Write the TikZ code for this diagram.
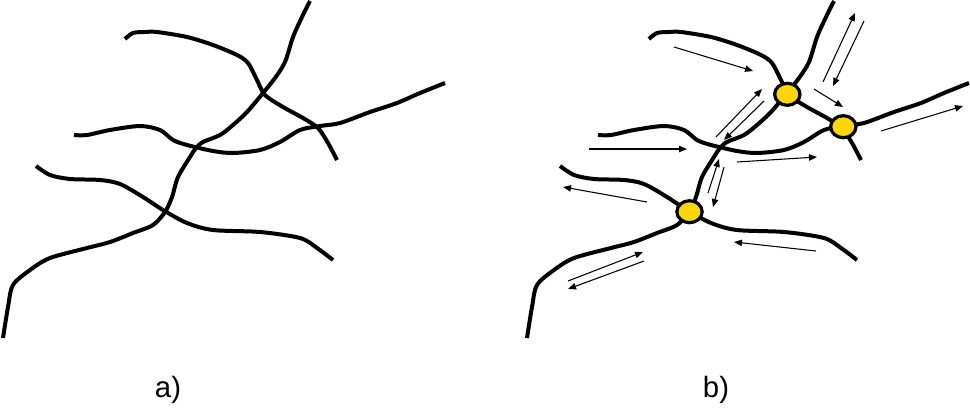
\documentclass[tikz,border=0pt]{standalone}
\usepackage{fontspec}
\setmainfont{Liberation Sans}
\usetikzlibrary{arrows.meta,shapes.geometric}
\definecolor{junctionyellow}{RGB}{255,214,0}
\begin{document}
\begin{tikzpicture}[x=0.75pt,y=-0.75pt,
  fiber/.style={line width=3pt, line join=round},
  flow/.style={line width=0.8pt, -{Triangle[length=6pt,width=4.8pt]}},
  junction/.style={ellipse, draw=black, line width=2.4pt, fill=junctionyellow,
    minimum width=19pt, minimum height=16.5pt, inner sep=0pt},
  label/.style={font=\fontsize{22}{26}\selectfont, anchor=base, inner sep=0pt}]
\useasboundingbox (0,0) rectangle (970,408);
\def\fibers{%
  \draw[fiber] plot[smooth, tension=0.5] coordinates {(310,1) (302,17) (293,37) (285,62) (275,78) (263,93) (247,112) (233,125) (220,135) (203,142) (196,148) (190,157) (178,177) (172,197) (165,212) (153,225) (133,233) (110,242) (87,248) (50,258) (30,270) (13,285) (8,307) (3,338)};
  \draw[fiber] plot[smooth, tension=0.5] coordinates {(125,39) (133,33) (145,32) (157,32) (187,37) (213,45) (237,55) (248,63) (257,80) (265,95) (283,107) (303,118) (318,128) (328,143) (337,160)};
  \draw[fiber] plot[smooth, tension=0.5] coordinates {(74,135) (87,135) (110,130) (140,126) (160,130) (173,140) (187,145) (213,151) (233,153) (260,150) (280,142) (300,130) (320,126) (340,123) (370,112) (397,103) (420,93) (445,83)};
  \draw[fiber] plot[smooth, tension=0.5] coordinates {(36,166) (50,175) (70,179) (100,180) (120,184) (143,197) (163,210) (187,223) (213,230) (260,232) (300,238) (317,248) (333,260)};
}
% a)
\fibers
% b)
\begin{scope}[xshift=393pt]
\fibers
\end{scope}
\node[junction] (j1) at (787.3,94.3) {};
\node[junction] (j2) at (843.3,126.7) {};
\node[junction] (j3) at (689.5,211.7) {};
% flow arrows
\draw[flow] (674,47) -- (753,71);
\draw[flow] (823,82) -- (855,13);
\draw[flow] (864,21) -- (833,86);
\draw[flow] (814,89) -- (843,107);
\draw[flow] (881,131) -- (963,106);
\draw[flow] (716,137) -- (762,89);
\draw[flow] (764,101) -- (724,140);
\draw[flow] (589,149) -- (687,149);
\draw[flow] (737,162) -- (817,157);
\draw[flow] (708,193) -- (719,159);
\draw[flow] (724,167) -- (713,207);
\draw[flow] (647,202) -- (563,187);
\draw[flow] (816,251) -- (734,242);
\draw[flow] (568,281) -- (643,252);
\draw[flow] (644,261) -- (568,289);
% labels
\node[label] (la) at (168,397) {a)};
\node[label] (lb) at (716,397) {b)};
\end{tikzpicture}
\end{document}
